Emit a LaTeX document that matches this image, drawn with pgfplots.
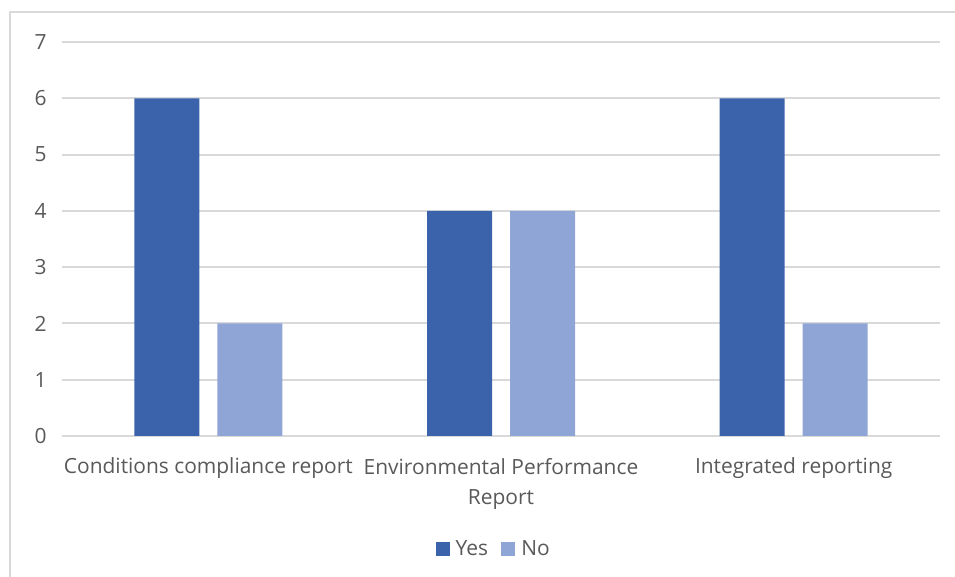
\documentclass[border=0pt]{standalone}
\usepackage{pgfplots}
\pgfplotsset{compat=1.18}
\usepackage{fontspec}
\setmainfont{Open Sans}

\definecolor{yesblue}{HTML}{3A63AC}
\definecolor{nopale}{HTML}{8FA5D6}
\definecolor{txtgray}{HTML}{595959}
\definecolor{gridgray}{HTML}{D9D9D9}

\begin{document}
\begin{tikzpicture}[x=0.75pt,y=0.75pt]
  \useasboundingbox (0,0) rectangle (955,577);
  % chart frame
  \draw[gridgray, line width=1pt] (10,-20) -- (10,565) -- (990,565);
  \begin{axis}[
    at={(46.5pt,105.75pt)}, anchor=south west,
    scale only axis,
    width=658.5pt, height=295.5pt,
    ybar=13.5pt, bar width=48.75pt,
    xmin=-0.5, xmax=2.5,
    ymin=0, ymax=7,
    xtick=data,
    xticklabels={Conditions compliance report, {Environmental Performance\\Report}, Integrated reporting},
    ytick={0,1,...,7},
    axis line style={draw=none},
    axis x line*=bottom,
    x axis line style={draw=gridgray, line width=1.5pt},
    ymajorgrids, grid style={gridgray, line width=1.5pt},
    major tick length=0pt,
    tick label style={font=\fontsize{15.7}{22.5}\selectfont, text=txtgray},
    xticklabel style={align=center, yshift=-13pt},
    yticklabel style={xshift=-8pt},
    /pgf/number format/assume math mode=true,
    legend style={draw=none, at={(0.492,-0.287)}, anchor=center,
      font=\fontsize{15.7}{18}\selectfont, text=txtgray,
      legend columns=2,
      /tikz/every odd column/.append style={column sep=2.5pt},
      /tikz/every even column/.append style={column sep=8pt}},
    legend image code/.code={\fill[#1] (0pt,-5.25pt) rectangle (10.5pt,5.25pt);},
  ]
    \addplot[fill=yesblue, draw=none] coordinates {(0,6) (1,4) (2,6)};
    \addplot[fill=nopale, draw=none] coordinates {(0,2) (1,4) (2,2)};
    \legend{Yes, No}
  \end{axis}
\end{tikzpicture}
\end{document}
